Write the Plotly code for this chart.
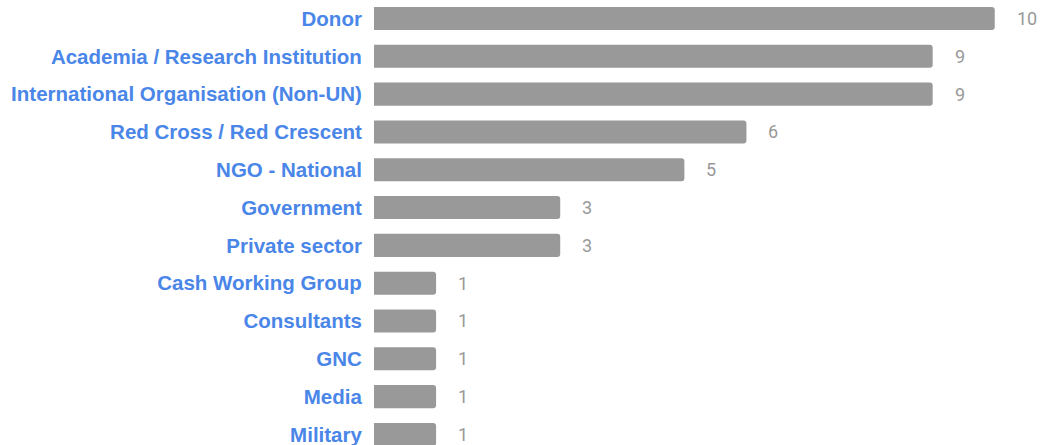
import plotly.graph_objects as go

categories = ["Donor", "Academia / Research Institution", "International Organisation (Non-UN)",
              "Red Cross / Red Crescent", "NGO - National", "Government", "Private sector",
              "Cash Working Group", "Consultants", "GNC", "Media", "Military"]
values = [10, 9, 9, 6, 5, 3, 3, 1, 1, 1, 1, 1]

fig = go.Figure()
fig.add_trace(go.Bar(
    x=values, y=categories, orientation="h",
    marker=dict(color="#999999", cornerradius=3, line=dict(width=0)),
    hoverinfo="x+y",
))
for c, v in zip(categories, values):
    fig.add_annotation(x=v, y=c, text=str(v), showarrow=False, xanchor="left",
                       xshift=20, font=dict(family="Roboto, Arial", size=18, color="#999999"))

fig.update_layout(
    width=1040, height=445,
    margin=dict(l=374, r=8, t=0, b=0),
    paper_bgcolor="white", plot_bgcolor="white",
    bargap=0.39, showlegend=False,
    xaxis=dict(range=[0, 10.6], visible=False, fixedrange=True),
    yaxis=dict(categoryorder="array", categoryarray=categories,
               range=[11.28, -0.49], showgrid=False, zeroline=False, showline=False,
               ticks="outside", ticklen=7, tickcolor="rgba(0,0,0,0)",
               tickfont=dict(family="Liberation Sans, Arial", size=20.5, color="#4a86e8",
                             weight="bold")),
)
fig.write_html("out.html")
